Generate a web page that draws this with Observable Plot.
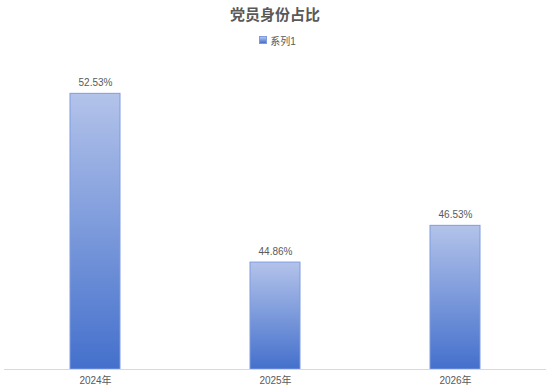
<!DOCTYPE html>
<html>
<head>
<meta charset="utf-8">
<script src="https://cdn.jsdelivr.net/npm/d3@7"></script>
<script src="https://cdn.jsdelivr.net/npm/@observablehq/plot@0.6"></script>
<style>
  html, body { margin: 0; padding: 0; background: #fff; }
  #wrap { width: 550px; font-family: "Liberation Sans", "Noto Sans CJK SC", sans-serif; color: #595959; }
  #title { height: 30px; line-height: 28px; text-align: center; font-family: "Noto Sans CJK SC", sans-serif; font-weight: bold; font-size: 15px; color: #595959; }
  #legend { height: 20px; display: flex; justify-content: center; align-items: center; font-size: 10px; padding-left: 5px; box-sizing: border-box; }
  #legend .sw { width: 6px; height: 6px; border: 1px solid #7f9be0; background: linear-gradient(#b3c3ea, #4470cc); margin-right: 3px; }
</style>
</head>
<body>
<div id="wrap">
  <div id="title">党员身份占比</div>
  <div id="legend"><span class="sw"></span><span>系列1</span></div>
  <div id="chart"></div>
</div>
<script>
const categories = ["2024年", "2025年", "2026年"];
const values = [52.53, 44.86, 46.53];
const valueLabels = ["52.53%", "44.86%", "46.53%"];
const seriesName = "系列1";

const data = categories.map((c, i) => ({category: c, value: values[i], label: valueLabels[i]}));

const plot = Plot.plot({
  width: 550,
  height: 341,
  marginTop: 11,
  marginBottom: 22,
  marginLeft: 4,
  marginRight: 4,
  style: {fontFamily: "'Liberation Sans', 'Noto Sans CJK SC', sans-serif", fontSize: "10px", color: "#595959", background: "#fff"},
  x: {domain: categories, paddingInner: 0.72, paddingOuter: 0.36, align: 0.5, label: null, tickSize: 0, tickPadding: 7},
  y: {domain: [40, 54], axis: null},
  marks: [
    Plot.barY(data, {x: "category", y1: 40, y2: "value", fill: "url(#barGrad)", stroke: "#7f9be0", strokeWidth: 1}),
    Plot.ruleY([40], {stroke: "#d9d9d9", strokeWidth: 1}),
    Plot.text(data, {x: "category", y: "value", text: "label", dy: -11, fill: "#595959", fontSize: 10}),
    Plot.axisX({tickSize: 0, tickPadding: 7, fontSize: 10, color: "#595959", label: null})
  ]
});

const defs = d3.select(plot).insert("defs", ":first-child");
const g = defs.append("linearGradient").attr("id", "barGrad").attr("x1", 0).attr("y1", 0).attr("x2", 0).attr("y2", 1);
g.append("stop").attr("offset", "0%").attr("stop-color", "#b3c3ea");
g.append("stop").attr("offset", "100%").attr("stop-color", "#4470cc");

document.getElementById("chart").appendChild(plot);
</script>
</body>
</html>
